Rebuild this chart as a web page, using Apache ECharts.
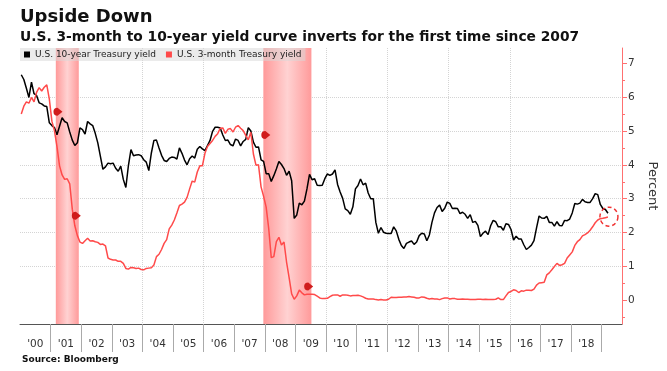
<!DOCTYPE html>
<html><head><meta charset="utf-8">
<script src="https://cdn.jsdelivr.net/npm/echarts@6/dist/echarts.min.js"></script>
<style>html,body{margin:0;padding:0;background:#fff}#c{width:667px;height:371px}</style>
</head><body><div id="c"></div>
<script>
// ---- data (monthly, Jan 2000 .. Mar 2019) ----
const startYear = 2000;
const tenYearYield = [
  6.66,6.52,6.26,5.99,6.44,6.10,6.05,5.83,5.80,5.74,5.72,5.24,
  5.16,5.10,4.89,5.14,5.39,5.28,5.24,4.97,4.73,4.57,4.65,5.09,
  5.04,4.91,5.28,5.21,5.16,4.93,4.65,4.26,3.87,3.94,4.05,4.03,
  4.05,3.90,3.81,3.96,3.57,3.33,3.98,4.45,4.27,4.29,4.30,4.27,
  4.15,4.08,3.83,4.35,4.72,4.73,4.50,4.28,4.13,4.10,4.19,4.23,
  4.22,4.17,4.50,4.34,4.14,4.00,4.18,4.26,4.20,4.46,4.54,4.47,
  4.42,4.57,4.72,4.99,5.11,5.11,5.09,4.88,4.72,4.73,4.60,4.56,
  4.76,4.72,4.56,4.69,4.75,5.10,5.00,4.67,4.52,4.53,4.15,4.10,
  3.74,3.74,3.51,3.68,3.88,4.10,4.01,3.89,3.69,3.81,3.53,2.42,
  2.52,2.87,2.82,2.93,3.29,3.72,3.56,3.59,3.40,3.39,3.40,3.59,
  3.73,3.69,3.73,3.85,3.42,3.20,3.01,2.70,2.65,2.54,2.76,3.29,
  3.39,3.58,3.41,3.46,3.17,3.00,3.00,2.30,1.98,2.15,2.01,1.98,
  1.97,1.97,2.17,2.05,1.80,1.62,1.53,1.68,1.72,1.75,1.65,1.72,
  1.91,1.98,1.96,1.76,1.93,2.30,2.58,2.74,2.81,2.62,2.72,2.90,
  2.86,2.71,2.72,2.71,2.56,2.60,2.54,2.42,2.53,2.30,2.33,2.21,
  1.88,1.98,2.04,1.94,2.20,2.36,2.32,2.17,2.17,2.07,2.26,2.24,
  2.09,1.78,1.89,1.81,1.81,1.64,1.50,1.56,1.63,1.76,2.14,2.49,
  2.43,2.42,2.48,2.30,2.30,2.19,2.32,2.21,2.20,2.36,2.35,2.40,
  2.58,2.86,2.84,2.87,2.98,2.91,2.89,2.89,3.00,3.15,3.12,2.83,
  2.71,2.68,2.57
];
const threeMonthYield = [
  5.50,5.73,5.86,5.82,5.99,5.86,6.14,6.28,6.18,6.29,6.36,5.94,
  5.29,5.01,4.54,3.97,3.70,3.57,3.59,3.44,2.69,2.20,1.91,1.72,
  1.68,1.76,1.83,1.75,1.76,1.73,1.71,1.65,1.66,1.61,1.25,1.21,
  1.19,1.19,1.15,1.15,1.09,0.94,0.92,0.97,0.96,0.94,0.95,0.91,
  0.90,0.94,0.95,0.96,1.04,1.29,1.36,1.50,1.68,1.79,2.11,2.22,
  2.37,2.58,2.80,2.84,2.90,3.04,3.29,3.52,3.49,3.79,3.97,3.97,
  4.34,4.54,4.63,4.72,4.84,4.92,5.08,5.09,4.93,5.05,5.07,4.97,
  5.11,5.16,5.08,5.01,4.87,4.74,4.96,4.32,3.99,4.00,3.35,3.07,
  2.75,2.12,1.26,1.29,1.73,1.86,1.63,1.72,1.13,0.67,0.19,0.03,
  0.13,0.30,0.22,0.16,0.18,0.18,0.18,0.17,0.12,0.07,0.05,0.05,
  0.06,0.11,0.15,0.16,0.16,0.12,0.16,0.16,0.15,0.13,0.14,0.14,
  0.15,0.13,0.10,0.06,0.04,0.04,0.04,0.02,0.01,0.02,0.01,0.01,
  0.03,0.09,0.08,0.08,0.09,0.09,0.10,0.10,0.11,0.10,0.09,0.07,
  0.07,0.10,0.09,0.06,0.04,0.05,0.04,0.04,0.02,0.05,0.07,0.07,
  0.04,0.05,0.05,0.03,0.03,0.04,0.03,0.03,0.02,0.02,0.02,0.03,
  0.03,0.02,0.03,0.02,0.02,0.02,0.03,0.07,0.02,0.02,0.13,0.23,
  0.26,0.31,0.29,0.23,0.28,0.27,0.30,0.30,0.29,0.33,0.45,0.51,
  0.52,0.53,0.75,0.81,0.90,1.00,1.09,1.03,1.05,1.09,1.25,1.34,
  1.43,1.62,1.73,1.79,1.90,1.94,1.99,2.07,2.17,2.29,2.37,2.41,
  2.42,2.44,2.46
];
const yearLabels = ["'00","'01","'02","'03","'04","'05","'06","'07","'08","'09",
                    "'10","'11","'12","'13","'14","'15","'16","'17","'18"];
const yTickValues = [0,1,2,3,4,5,6,7];
const recessions = [[2001.17, 2001.92], [2007.95, 2009.52]];
const eventMarkers = [[2001.24, 5.57], [2001.84, 2.50], [2008.03, 4.88], [2009.43, 0.41]];
const inversionPoint = [2019.24, 2.47];
const seriesNames = ['U.S. 10-year Treasury yield', 'U.S. 3-month Treasury yield'];

// ---- derived ----
const toXY = arr => arr.map((v, i) => [startYear + (i + 0.5) / 12, v]);
const xMin = startYear, xMax = 2019.667, yMin = -0.7, yMax = 7.45;
const labelPos = yearLabels.map((_, i) => startYear + i + 0.5);
const yearTicks = yearLabels.map((_, i) => startYear + i + 1);
const evenYears = yearLabels.map((_, i) => startYear + i).filter(y => y % 2 === 0 && y > startYear);
const halfTicks = yTickValues.map(v => v - 0.5);

const FONT = "'DejaVu Sans', sans-serif";
const RED = '#ff4a4a';
const shade = {
  type: 'linear', x: 0, y: 0, x2: 1, y2: 0,
  colorStops: [
    { offset: 0, color: '#ff9a9a' },
    { offset: 0.5, color: '#ffd2d2' },
    { offset: 1, color: '#ff9a9a' }
  ]
};

const chart = echarts.init(document.getElementById('c'), null, { renderer: 'canvas' });
chart.setOption({
  animation: false,
  backgroundColor: '#ffffff',
  grid: { left: 20, right: 39, top: 48, bottom: 47, containLabel: false },
  graphic: [
    { type: 'text', left: 20, top: 8, style: { text: 'Upside Down', font: "bold 18px 'DejaVu Sans'", fill: '#111' } },
    { type: 'text', left: 20, top: 30, style: { text: 'U.S. 3-month to 10-year yield curve inverts for the first time since 2007', font: "bold 13.8px 'DejaVu Sans'", fill: '#111' } },
    { type: 'text', left: 22, top: 355, style: { text: 'Source: Bloomberg', font: "bold 9px 'DejaVu Sans'", fill: '#111' } }
  ],
  legend: {
    left: 20, top: 48, orient: 'horizontal',
    icon: 'rect', itemWidth: 6, itemHeight: 6, itemGap: 10,
    padding: [2, 4, 2, 4],
    backgroundColor: 'rgba(215,215,215,0.5)',
    textStyle: { fontFamily: FONT, fontSize: 9, color: '#222' },
    data: seriesNames
  },
  xAxis: [
    {
      type: 'value', min: xMin, max: xMax, position: 'bottom',
      axisLine: { show: true, onZero: false, lineStyle: { color: '#555', width: 1 } },
      axisTick: { show: true, length: 28, customValues: yearTicks, lineStyle: { color: '#aaa' } },
      axisLabel: {
        show: true, customValues: labelPos, margin: 15,
        fontFamily: FONT, fontSize: 10.5, color: '#333',
        formatter: v => yearLabels[Math.round(v - 0.5 - startYear)] || ''
      },
      splitLine: { show: false }
    },
    {
      type: 'value', min: xMin, max: xMax, position: 'bottom',
      axisLine: { show: false, onZero: false },
      axisTick: { show: false, customValues: evenYears },
      axisLabel: { show: false },
      splitLine: { show: true, showMinLine: false, showMaxLine: false, lineStyle: { color: '#d4d4d4', type: 'dotted' } }
    }
  ],
  yAxis: [
    {
      type: 'value', min: yMin, max: yMax, position: 'right',
      name: 'Percent', nameLocation: 'middle', nameRotate: -90, nameGap: 24,
      nameTextStyle: { fontFamily: FONT, fontSize: 13, color: '#333' },
      axisLine: { show: true, onZero: false, lineStyle: { color: '#ff7070' } },
      axisTick: { show: true, length: 5, customValues: yTickValues, lineStyle: { color: '#ff7070' } },
      axisLabel: { show: true, customValues: yTickValues, margin: 6, fontFamily: FONT, fontSize: 10.5, color: '#333' },
      splitLine: { show: true, showMinLine: false, showMaxLine: false, lineStyle: { color: '#d4d4d4', type: 'dotted' } }
    },
    {
      type: 'value', min: yMin, max: yMax, position: 'right',
      axisLine: { show: false, onZero: false },
      axisTick: { show: true, length: 3, customValues: halfTicks, lineStyle: { color: '#ff7070' } },
      axisLabel: { show: false },
      splitLine: { show: false }
    }
  ],
  series: [
    {
      name: 'recessions', type: 'line', data: [], z: 1, silent: true,
      markArea: {
        silent: true,
        itemStyle: { color: shade },
        data: recessions.map(r => [{ xAxis: r[0] }, { xAxis: r[1] }])
      }
    },
    {
      name: seriesNames[0], type: 'line', data: toXY(tenYearYield), z: 3,
      showSymbol: false, symbol: 'none',
      lineStyle: { color: '#000', width: 1.5 }, itemStyle: { color: '#000' }
    },
    {
      name: seriesNames[1], type: 'line', data: toXY(threeMonthYield), z: 4,
      showSymbol: false, symbol: 'none',
      lineStyle: { color: RED, width: 1.5 }, itemStyle: { color: RED },
      markPoint: {
        silent: true,
        label: { show: false },
        data: eventMarkers.map(p => ({
          coord: p, symbol: 'path://M5,0 A5,5 0 1,0 5,10 L11,5 Z', symbolSize: [9, 8],
          itemStyle: { color: '#d01c1c' }
        })).concat([{
          coord: inversionPoint, symbol: 'circle', symbolSize: [18, 19],
          itemStyle: { color: 'rgba(0,0,0,0)', borderColor: '#f03030', borderWidth: 1.5, borderType: [4, 3] }
        }])
      }
    }
  ]
});
</script>
</body></html>
